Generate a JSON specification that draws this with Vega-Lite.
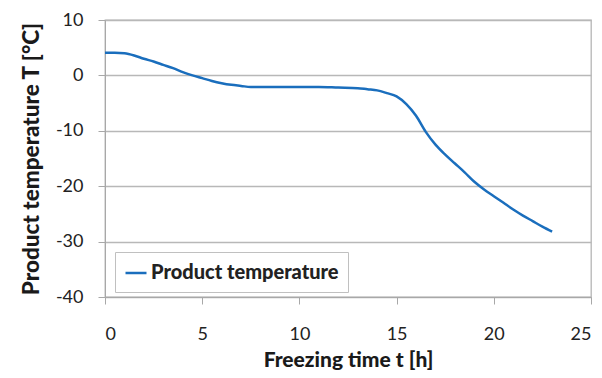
{
  "$schema": "https://vega.github.io/schema/vega-lite/v6.json",
  "width": 486,
  "height": 277,
  "autosize": {"type": "none"},
  "padding": {"left": 105, "top": 20, "right": 11, "bottom": 81},
  "background": "white",
  "config": {
    "font": "Lato",
    "view": {"stroke": "#b5b5b5", "strokeWidth": 1.3}
  },
  "data": {
    "values": [
      {"t": 0, "T": 4.1, "series": "Product temperature"},
      {"t": 0.5, "T": 4.1, "series": "Product temperature"},
      {"t": 1, "T": 4.0, "series": "Product temperature"},
      {"t": 1.5, "T": 3.6, "series": "Product temperature"},
      {"t": 2, "T": 3.0, "series": "Product temperature"},
      {"t": 2.5, "T": 2.5, "series": "Product temperature"},
      {"t": 3, "T": 1.9, "series": "Product temperature"},
      {"t": 3.5, "T": 1.3, "series": "Product temperature"},
      {"t": 4, "T": 0.6, "series": "Product temperature"},
      {"t": 4.5, "T": 0.0, "series": "Product temperature"},
      {"t": 5, "T": -0.5, "series": "Product temperature"},
      {"t": 5.5, "T": -1.0, "series": "Product temperature"},
      {"t": 6, "T": -1.4, "series": "Product temperature"},
      {"t": 6.5, "T": -1.7, "series": "Product temperature"},
      {"t": 7, "T": -1.9, "series": "Product temperature"},
      {"t": 7.5, "T": -2.1, "series": "Product temperature"},
      {"t": 8, "T": -2.1, "series": "Product temperature"},
      {"t": 9, "T": -2.1, "series": "Product temperature"},
      {"t": 10, "T": -2.1, "series": "Product temperature"},
      {"t": 11, "T": -2.1, "series": "Product temperature"},
      {"t": 12, "T": -2.2, "series": "Product temperature"},
      {"t": 13, "T": -2.3, "series": "Product temperature"},
      {"t": 13.5, "T": -2.5, "series": "Product temperature"},
      {"t": 14, "T": -2.7, "series": "Product temperature"},
      {"t": 14.5, "T": -3.2, "series": "Product temperature"},
      {"t": 15, "T": -3.8, "series": "Product temperature"},
      {"t": 15.5, "T": -5.2, "series": "Product temperature"},
      {"t": 16, "T": -7.3, "series": "Product temperature"},
      {"t": 16.5, "T": -10.2, "series": "Product temperature"},
      {"t": 17, "T": -12.5, "series": "Product temperature"},
      {"t": 17.5, "T": -14.3, "series": "Product temperature"},
      {"t": 18, "T": -15.9, "series": "Product temperature"},
      {"t": 18.5, "T": -17.5, "series": "Product temperature"},
      {"t": 19, "T": -19.2, "series": "Product temperature"},
      {"t": 19.5, "T": -20.6, "series": "Product temperature"},
      {"t": 20, "T": -21.8, "series": "Product temperature"},
      {"t": 20.5, "T": -23.0, "series": "Product temperature"},
      {"t": 21, "T": -24.2, "series": "Product temperature"},
      {"t": 21.5, "T": -25.3, "series": "Product temperature"},
      {"t": 22, "T": -26.3, "series": "Product temperature"},
      {"t": 22.5, "T": -27.3, "series": "Product temperature"},
      {"t": 23, "T": -28.2, "series": "Product temperature"}
    ]
  },
  "mark": {"type": "line", "strokeWidth": 2.5, "interpolate": "monotone"},
  "encoding": {
    "x": {
      "field": "t",
      "type": "quantitative",
      "scale": {"domain": [0, 25], "nice": false},
      "axis": {
        "values": [0, 5, 10, 15, 20, 25],
        "labelExpr": "datum.value",
        "title": "Freezing time t [h]",
        "titleFont": "Lato",
        "titleFontSize": 21,
        "titleFontWeight": 900,
        "titleColor": "#1a1a1a",
        "titlePadding": 6,
        "labelFontSize": 18,
        "labelColor": "#222",
        "labelPadding": 21,
        "tickSize": 7,
        "tickColor": "#a8a8a8",
        "domainColor": "#a8a8a8",
        "grid": false
      }
    },
    "y": {
      "field": "T",
      "type": "quantitative",
      "scale": {"domain": [-40, 10], "nice": false},
      "axis": {
        "values": [-40, -30, -20, -10, 0, 10],
        "labelExpr": "datum.value",
        "title": "Product temperature T [°C]",
        "titleFontSize": 22.5,
        "titleFontWeight": 900,
        "titleColor": "#1a1a1a",
        "titlePadding": 12,
        "titleLimit": 400,
        "labelFontSize": 18,
        "labelColor": "#222",
        "labelPadding": 15,
        "tickSize": 7,
        "tickColor": "#a8a8a8",
        "domainColor": "#a8a8a8",
        "grid": true,
        "gridColor": "#b8b8b8",
        "gridWidth": 1.3
      }
    },
    "color": {
      "field": "series",
      "type": "nominal",
      "scale": {"range": ["#1a6ebd"]},
      "legend": {
        "title": null,
        "orient": "none",
        "legendX": 10,
        "legendY": 232,
        "symbolType": "stroke",
        "symbolStrokeWidth": 2.5,
        "symbolSize": 441,
        "labelFontSize": 20,
        "labelFontWeight": 900,
        "labelColor": "#222",
        "labelOffset": 3,
        "labelLimit": 400,
        "padding": 9,
        "strokeColor": "#c0c0c0",
        "fillColor": "white"
      }
    }
  }
}
